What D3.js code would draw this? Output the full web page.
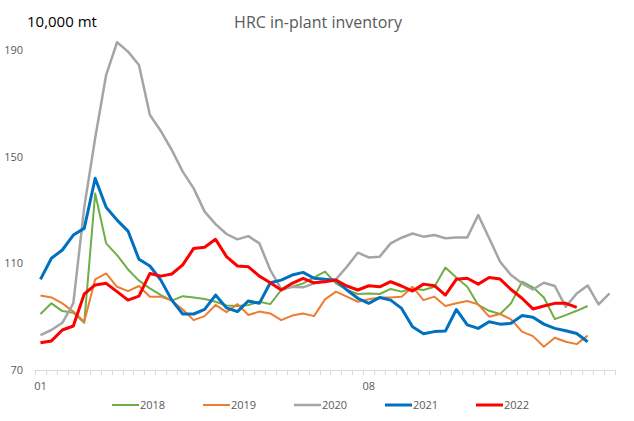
<!DOCTYPE html>
<html>
<head>
<meta charset="utf-8">
<script src="https://cdn.jsdelivr.net/npm/d3@7"></script>
<style>
  html, body { margin: 0; padding: 0; background: #fff; }
  svg { display: block; }
  text { font-family: "Open Sans", "Noto Sans", sans-serif; }
</style>
</head>
<body>
<svg id="chart" width="634" height="421"></svg>
<script>
// ---- data ----
const categories = ["01","01","01","01","02","02","02","02","03","03","03","03","03",
  "04","04","04","04","05","05","05","05","05","06","06","06","06","07","07","07","07",
  "08","08","08","08","08","09","09","09","09","10","10","10","10","11","11","11","11","11",
  "12","12","12","12","12"];
const tickLabelIndices = [0, 30];
const yTicks = [70, 110, 150, 190];
const seriesNames = ["2018", "2019", "2020", "2021", "2022"];

const v2018 = [91,95,92.1,91.5,87.7,136.2,117.5,113.1,107.7,103.5,100.6,98.1,96,97.7,97.2,96.6,95.6,94.2,
  94,94.4,95.6,94.7,100,101.2,102.5,104.7,106.9,102.5,100,98.5,98.7,98.5,100.4,99.4,100.6,100,
  101.2,108.4,104.7,101.2,94.4,92.2,91,95,103.1,101,97.2,89.1,90.6,92.2,94];
const v2019 = [97.9,97.2,95,91.9,88.1,104,106.2,101.2,99.6,101.5,97.5,97.5,96,92.7,88.7,90.2,94.4,91.7,
  94.7,90.6,91.9,91.2,88.7,90.4,91.2,90.2,96.5,99.4,97.5,95.6,96.5,97.2,97.2,97.5,101.2,96.2,
  97.5,94,95,95.9,94.6,90,91,89,84.4,82.7,78.7,82.1,80.6,79.7,82.9];
const v2020 = [83.1,85,87.7,95,131,157,180.6,192.9,189.4,184.4,165.6,159.6,152.5,144.4,138.1,129.4,124.7,121,
  119,120.2,117.5,107.5,100.3,101.2,101,102.5,103.5,104,108.7,114,112.2,112.5,117.5,119.6,121.2,120,
  120.6,119.4,119.7,119.7,128.1,119.4,110.6,105.6,102.5,100.2,102.7,101.5,93.7,98.7,101.7,94.6,98.7];
const v2021 = [104,111.9,115,120.6,123.1,141.9,131,126.2,122.1,111.5,109,103.7,96.2,91,91,92.7,98.1,93.3,
  91.9,95.9,95,102.7,103.7,105.6,106.6,104.4,104,103.7,100,96.9,95,97.2,96.2,93.1,86.2,83.6,
  84.4,84.6,92.7,86.9,85.6,88.1,87.2,87.5,90.4,89.8,87.2,85.6,84.7,83.7,80.6];
const v2022 = [80.2,80.9,85,86.5,98.5,101.9,102.5,99.4,96.2,97.7,106.2,105.2,106,109.4,115.6,116,119,112.5,
  109,108.7,105.2,102.7,100,102.5,104.4,102.7,103.1,103.7,101.5,100,101.6,101.2,103.1,101.5,99.6,102.2,
  101.6,98.1,104,104.4,102.2,104.7,104.1,100.2,96.9,92.9,94,95,95,93.5];
const seriesValues = [v2018, v2019, v2020, v2021, v2022];
const seriesColors = ["#70AD47", "#ED7D31", "#A5A5A5", "#0070C0", "#FF0000"];
const seriesWidths = [2, 2, 2.5, 3, 3];

// ---- chart ----
const svg = d3.select("#chart");
const x = d3.scaleBand().domain(d3.range(categories.length)).range([35, 615]).padding(0);
const y = d3.scaleLinear().domain([70, 190]).range([370, 50]);
const cx = i => x(i) + x.bandwidth() / 2;

svg.append("text").attr("x", 318).attr("y", 28).attr("text-anchor", "middle")
  .attr("font-size", 16).attr("fill", "#595959").text("HRC in-plant inventory");
svg.append("text").attr("x", 27).attr("y", 27).attr("text-anchor", "start")
  .attr("font-size", 15).attr("fill", "#000").text("10,000 mt");

// y labels
svg.append("g").selectAll("text").data(yTicks).join("text")
  .attr("x", 23).attr("y", d => y(d)).attr("dy", "0.35em").attr("text-anchor", "end")
  .attr("font-size", 11).attr("fill", "#595959").text(d => d);

// x axis
const ax = svg.append("g");
ax.append("line").attr("x1", x.range()[0]).attr("x2", x.range()[1])
  .attr("y1", y(70) + 0.5).attr("y2", y(70) + 0.5).attr("stroke", "#d9d9d9").attr("stroke-width", 1);
const edges = d3.range(categories.length + 1).map(i => i < categories.length ? x(i) : x.range()[1]);
ax.selectAll("line.tick").data(edges).join("line").attr("class", "tick")
  .attr("x1", d => Math.round(d) + 0.5).attr("x2", d => Math.round(d) + 0.5)
  .attr("y1", y(70)).attr("y2", y(70) + 5).attr("stroke", "#d9d9d9").attr("stroke-width", 1);
ax.selectAll("text").data(tickLabelIndices).join("text")
  .attr("x", d => cx(d)).attr("y", 390).attr("text-anchor", "middle")
  .attr("font-size", 11).attr("fill", "#595959").text(d => categories[d]);

// lines
const line = d3.line().x((d, i) => cx(i)).y(d => y(d));
svg.append("g").selectAll("path").data(seriesValues).join("path")
  .attr("d", d => line(d)).attr("fill", "none")
  .attr("stroke", (d, i) => seriesColors[i]).attr("stroke-width", (d, i) => seriesWidths[i])
  .attr("stroke-linejoin", "round");

// legend
const lg = svg.append("g").selectAll("g").data(seriesNames).join("g")
  .attr("transform", (d, i) => `translate(${112 + i * 91},405)`);
lg.append("line").attr("x1", 0).attr("x2", 27).attr("y1", 0).attr("y2", 0)
  .attr("stroke", (d, i) => seriesColors[i]).attr("stroke-width", (d, i) => seriesWidths[i]);
lg.append("text").attr("x", 28).attr("y", 0).attr("dy", "0.35em")
  .attr("font-size", 11).attr("fill", "#595959").text(d => d);
</script>
</body>
</html>
